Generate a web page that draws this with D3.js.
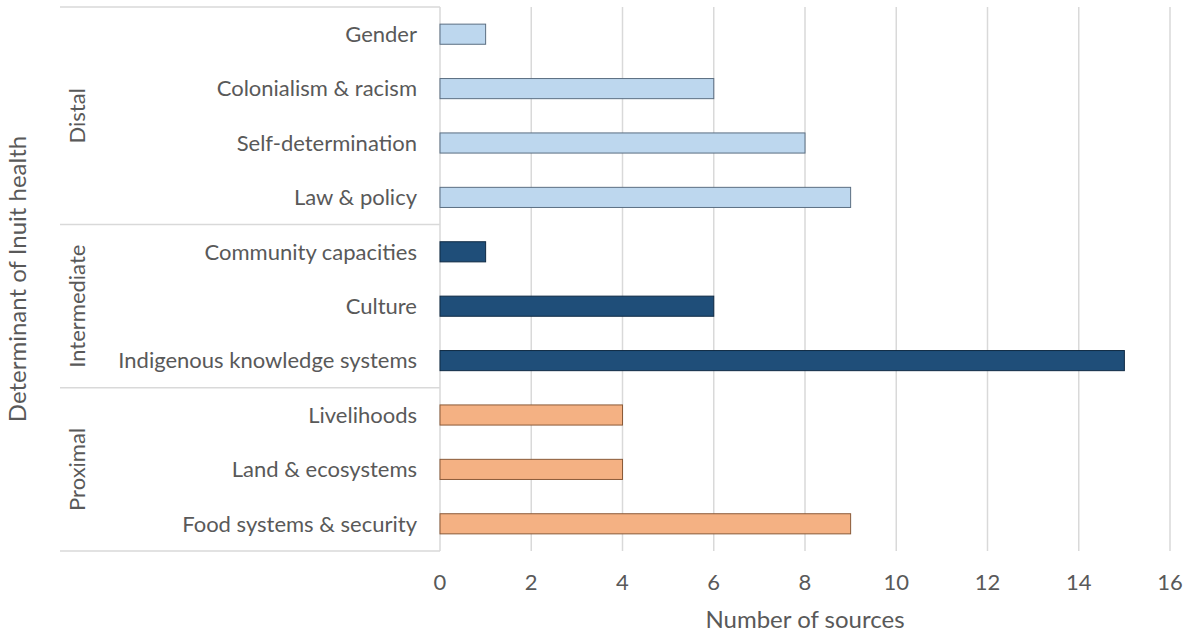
<!DOCTYPE html>
<html>
<head>
<meta charset="utf-8">
<script src="https://cdn.jsdelivr.net/npm/d3@7"></script>
<style>
  body { margin: 0; background: #fff; }
  text { font-family: Lato, "Open Sans", sans-serif; fill: #595959; }
</style>
</head>
<body>
<svg id="chart" width="1191" height="636"></svg>
<script>
// data, top to bottom
var categories = ["Gender", "Colonialism & racism", "Self-determination", "Law & policy",
  "Community capacities", "Culture", "Indigenous knowledge systems",
  "Livelihoods", "Land & ecosystems", "Food systems & security"];
var values = [1, 6, 8, 9, 1, 6, 15, 4, 4, 9];
var groupOf = ["Distal", "Distal", "Distal", "Distal",
  "Intermediate", "Intermediate", "Intermediate",
  "Proximal", "Proximal", "Proximal"];
var groups = ["Distal", "Intermediate", "Proximal"];
var xTicks = [0, 2, 4, 6, 8, 10, 12, 14, 16];

var fills = { Distal: "#BDD7EE", Intermediate: "#1F4E79", Proximal: "#F4B183" };
var strokes = { Distal: "#5B6E82", Intermediate: "#0F2A44", Proximal: "#8A5A38" };

var svg = d3.select("#chart");
var plotLeft = 440, plotRight = 1170, plotTop = 7, plotBottom = 551;

var x = d3.scaleLinear().domain([0, 16]).range([plotLeft, plotRight]);
var y = d3.scaleBand().domain(categories).range([plotTop, plotBottom]).paddingInner(0.63).paddingOuter(0.315);

// gridlines
svg.append("g").selectAll("line").data(xTicks).enter().append("line")
  .attr("x1", function (d) { return x(d); })
  .attr("x2", function (d) { return x(d); })
  .attr("y1", plotTop).attr("y2", plotBottom)
  .attr("stroke", "#D9D9D9").attr("stroke-width", 1.5);

// bars
svg.append("g").selectAll("rect").data(categories).enter().append("rect")
  .attr("x", x(0))
  .attr("y", function (d) { return y(d); })
  .attr("width", function (d, i) { return x(values[i]) - x(0); })
  .attr("height", y.bandwidth())
  .attr("fill", function (d, i) { return fills[groupOf[i]]; })
  .attr("stroke", function (d, i) { return strokes[groupOf[i]]; })
  .attr("stroke-width", 1);

// category labels
svg.append("g").selectAll("text").data(categories).enter().append("text")
  .attr("x", plotLeft - 23)
  .attr("y", function (d) { return y(d) + y.bandwidth() / 2; })
  .attr("dy", "0.35em")
  .attr("text-anchor", "end")
  .style("font-size", "22px")
  .text(function (d) { return d; });

// group boxes: horizontal separators and rotated group labels
var step = y.step();
var groupSpans = groups.map(function (g) {
  var idx = categories.filter(function (c, i) { return groupOf[i] === g; });
  var y0 = y(idx[0]) - (step - y.bandwidth()) / 2;
  var y1 = y(idx[idx.length - 1]) + y.bandwidth() + (step - y.bandwidth()) / 2;
  return { name: g, y0: y0, y1: y1 };
});
var seps = [plotTop].concat(groupSpans.map(function (s) { return s.y1; }));
svg.append("g").selectAll("line").data(seps).enter().append("line")
  .attr("x1", 60).attr("x2", plotLeft)
  .attr("y1", function (d) { return d; })
  .attr("y2", function (d) { return d; })
  .attr("stroke", "#D9D9D9").attr("stroke-width", 1.5);

svg.append("g").selectAll("text").data(groupSpans).enter().append("text")
  .attr("transform", function (d) { return "translate(77," + (d.y0 + d.y1) / 2 + ") rotate(-90)"; })
  .attr("dy", "0.35em")
  .attr("text-anchor", "middle")
  .style("font-size", "22px")
  .text(function (d) { return d.name; });

// x tick labels
svg.append("g").selectAll("text").data(xTicks).enter().append("text")
  .attr("x", function (d) { return x(d); })
  .attr("y", 582)
  .attr("dy", "0.35em")
  .attr("text-anchor", "middle")
  .style("font-size", "22px")
  .text(function (d) { return d; });

// axis titles
svg.append("text")
  .attr("x", (plotLeft + plotRight) / 2).attr("y", 620)
  .attr("dy", "0.35em")
  .attr("text-anchor", "middle")
  .style("font-size", "24px")
  .text("Number of sources");

svg.append("text")
  .attr("transform", "translate(18," + (plotTop + plotBottom) / 2 + ") rotate(-90)")
  .attr("dy", "0.35em")
  .attr("text-anchor", "middle")
  .style("font-size", "24px")
  .text("Determinant of Inuit health");
</script>
</body>
</html>
